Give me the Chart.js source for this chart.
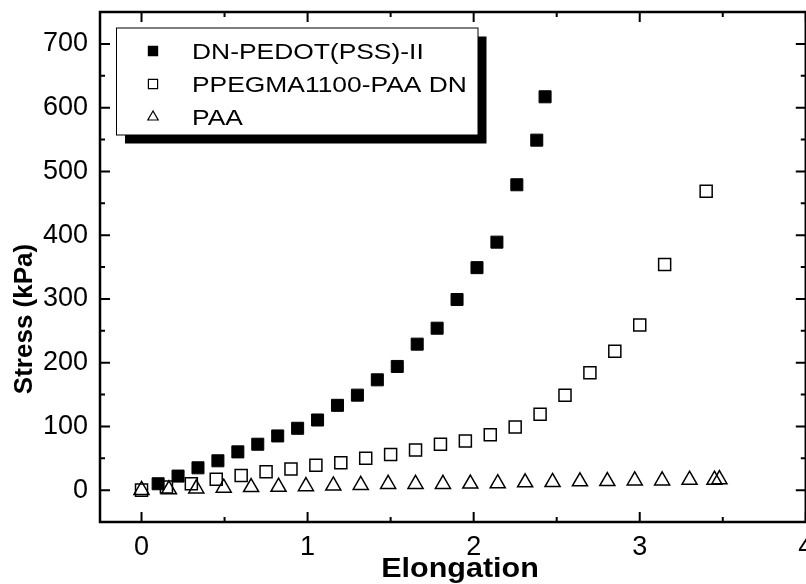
<!DOCTYPE html>
<html>
<head>
<meta charset="utf-8">
<script src="https://cdn.jsdelivr.net/npm/chart.js@4.4.1/dist/chart.umd.min.js"></script>
<style>
  html, body { margin: 0; padding: 0; background: #fff; overflow: hidden; }
  #wrap { position: relative; width: 806px; height: 584px; overflow: hidden; }
</style>
</head>
<body>
<div id="wrap"><canvas id="c" width="816" height="584"></canvas></div>
<script>
// Stress–elongation curves of three hydrogels
const seriesNames = ['DN-PEDOT(PSS)-II', 'PPEGMA1100-PAA DN', 'PAA'];

const pedotX = [0.10, 0.22, 0.34, 0.46, 0.58, 0.70, 0.82, 0.94, 1.06, 1.18, 1.30, 1.42, 1.54, 1.66, 1.78, 1.90, 2.02, 2.14, 2.26, 2.38, 2.43];
const pedotY = [10, 22, 35, 46, 60, 72, 85, 97, 110, 133, 149, 173, 194, 229, 254, 299, 349, 389, 479, 549, 617];

const ppegX = [0, 0.15, 0.30, 0.45, 0.60, 0.75, 0.90, 1.05, 1.20, 1.35, 1.50, 1.65, 1.80, 1.95, 2.10, 2.25, 2.40, 2.55, 2.70, 2.85, 3.00, 3.15, 3.40];
const ppegY = [0, 5, 10, 17, 23, 29, 33, 39, 43, 50, 56, 63, 72, 77, 87, 99, 119, 149, 184, 218, 259, 354, 469];

const paaX = [0, 0.165, 0.33, 0.495, 0.66, 0.825, 0.99, 1.155, 1.32, 1.485, 1.65, 1.815, 1.98, 2.145, 2.31, 2.475, 2.64, 2.805, 2.97, 3.135, 3.30, 3.45, 3.48];
const paaY = [0, 1, 2.5, 3.5, 4.5, 5, 6, 7, 8, 9.5, 9.5, 9.5, 10, 10.5, 12, 12.5, 13.5, 14, 15, 15, 16, 16, 17];

const xMajor = [0, 1, 2, 3, 4];
const xMinor = [0.5, 1.5, 2.5, 3.5];
const yMajor = [0, 100, 200, 300, 400, 500, 600, 700];
const yMinor = [50, 150, 250, 350, 450, 550, 650];

const xTitle = 'Elongation';
const yTitle = 'Stress (kPa)';

const FONT = '"Liberation Sans", Arial, Helvetica, sans-serif';

const pts = (xs, ys) => xs.map((x, i) => ({ x: x, y: ys[i] }));

// Marker used in the legend, same shapes as the plotted points
function legendMarker(ctx, style, filled, cx, cy) {
  const r = style === 'triangle' ? 6 : 6.5;
  ctx.beginPath();
  if (style === 'rect') {
    const s = Math.SQRT1_2 * r;
    ctx.rect(cx - s, cy - s, 2 * s, 2 * s);
  } else {
    ctx.moveTo(cx, cy - r);
    ctx.lineTo(cx - r * Math.sqrt(3) / 2, cy + r / 2);
    ctx.lineTo(cx + r * Math.sqrt(3) / 2, cy + r / 2);
    ctx.closePath();
  }
  ctx.lineWidth = 1.2;
  ctx.strokeStyle = '#000';
  if (filled) { ctx.fillStyle = '#000'; ctx.fill(); }
  ctx.stroke();
}

// Text with a slightly widened face
function wideText(ctx, text, x, y, font, align, stretch) {
  ctx.save();
  ctx.translate(x, y);
  ctx.scale(stretch, 1);
  ctx.font = font;
  ctx.textAlign = align;
  ctx.textBaseline = 'alphabetic';
  ctx.fillStyle = '#000';
  ctx.fillText(text, 0, 0);
  ctx.restore();
}

// Boxed frame with inward ticks on all four sides, axis titles and a shadowed legend
const framePlugin = {
  id: 'frame',
  afterDatasetsDraw(chart) {
    const { ctx, chartArea: a, scales: { x, y } } = chart;
    ctx.save();
    ctx.strokeStyle = '#000';
    ctx.lineCap = 'butt';

    // ticks
    ctx.lineWidth = 2;
    const majorLen = 10, minorLen = 5;
    const xt = (v, len) => {
      const px = x.getPixelForValue(v);
      ctx.beginPath();
      ctx.moveTo(px, a.bottom); ctx.lineTo(px, a.bottom - len);
      ctx.moveTo(px, a.top); ctx.lineTo(px, a.top + len);
      ctx.stroke();
    };
    const yt = (v, len) => {
      const py = y.getPixelForValue(v);
      ctx.beginPath();
      ctx.moveTo(a.left, py); ctx.lineTo(a.left + len, py);
      ctx.moveTo(a.right, py); ctx.lineTo(a.right - len, py);
      ctx.stroke();
    };
    xMajor.forEach(v => xt(v, majorLen));
    xMinor.forEach(v => xt(v, minorLen));
    yMajor.forEach(v => yt(v, majorLen));
    yMinor.forEach(v => yt(v, minorLen));

    // frame
    ctx.lineWidth = 2.5;
    ctx.strokeRect(a.left, a.top, a.right - a.left, a.bottom - a.top);

    // axis titles
    wideText(ctx, xTitle, 460, 577, 'bold 27px ' + FONT, 'center', 1.13);

    ctx.save();
    ctx.translate(32, 319);
    ctx.rotate(-Math.PI / 2);
    ctx.font = 'bold 26px ' + FONT;
    ctx.textAlign = 'center';
    ctx.fillStyle = '#000';
    ctx.fillText(yTitle, 0, 0);
    ctx.restore();

    // legend
    const bx = 116.5, by = 28, bw = 361.5, bh = 107, sh = 8.5;
    ctx.fillStyle = '#000';
    ctx.fillRect(bx + sh, by + sh, bw, bh);
    ctx.fillStyle = '#fff';
    ctx.fillRect(bx, by, bw, bh);
    ctx.lineWidth = 1;
    ctx.strokeStyle = '#000';
    ctx.strokeRect(bx, by, bw, bh);

    const rows = [51, 84, 117];
    chart.data.datasets.forEach((ds, i) => {
      const ry = rows[i];
      legendMarker(ctx, ds.pointStyle, ds.backgroundColor === '#000', 153, ry);
      wideText(ctx, ds.label, 192, ry + 7.5, '22px ' + FONT, 'left', 1.2);
    });

    ctx.restore();
  }
};

const chart = new Chart(document.getElementById('c'), {
  type: 'scatter',
  data: {
    datasets: [
      {
        label: seriesNames[0],
        data: pts(pedotX, pedotY),
        pointStyle: 'rect',
        pointRadius: 8.5,
        pointHoverRadius: 8.5,
        backgroundColor: '#000',
        borderColor: '#000',
        borderWidth: 1,
        order: 3
      },
      {
        label: seriesNames[1],
        data: pts(ppegX, ppegY),
        pointStyle: 'rect',
        pointRadius: 8.5,
        pointHoverRadius: 8.5,
        backgroundColor: 'rgba(0,0,0,0)',
        borderColor: '#000',
        borderWidth: 1.5,
        order: 2
      },
      {
        label: seriesNames[2],
        data: pts(paaX, paaY),
        pointStyle: 'triangle',
        pointRadius: 8.7,
        pointHoverRadius: 8.7,
        backgroundColor: 'rgba(0,0,0,0)',
        borderColor: '#000',
        borderWidth: 1.5,
        order: 1
      }
    ]
  },
  options: {
    responsive: false,
    animation: false,
    events: [],
    layout: { padding: { top: 12, right: 2, left: 0, bottom: 0 } },
    plugins: {
      legend: { display: false },
      tooltip: { enabled: false },
      title: { display: false }
    },
    scales: {
      x: {
        type: 'linear',
        min: -0.25,
        max: 4,
        grid: { display: false, drawTicks: false },
        border: { display: false },
        ticks: {
          color: '#000',
          font: { family: FONT, size: 27 },
          padding: 9,
          maxRotation: 0,
          autoSkip: false
        },
        afterBuildTicks: s => { s.ticks = xMajor.map(v => ({ value: v })); },
        afterFit: s => { s.height = 62; s.paddingLeft = 0; s.paddingRight = 0; }
      },
      y: {
        type: 'linear',
        min: -50,
        max: 750,
        grid: { display: false, drawTicks: false },
        border: { display: false },
        ticks: {
          color: '#000',
          font: { family: FONT, size: 27 },
          padding: 12,
          autoSkip: false
        },
        afterBuildTicks: s => { s.ticks = yMajor.map(v => ({ value: v })); },
        afterFit: s => { s.width = 100; s.paddingTop = 0; s.paddingBottom = 0; }
      }
    }
  },
  plugins: [framePlugin]
});
</script>
</body>
</html>
